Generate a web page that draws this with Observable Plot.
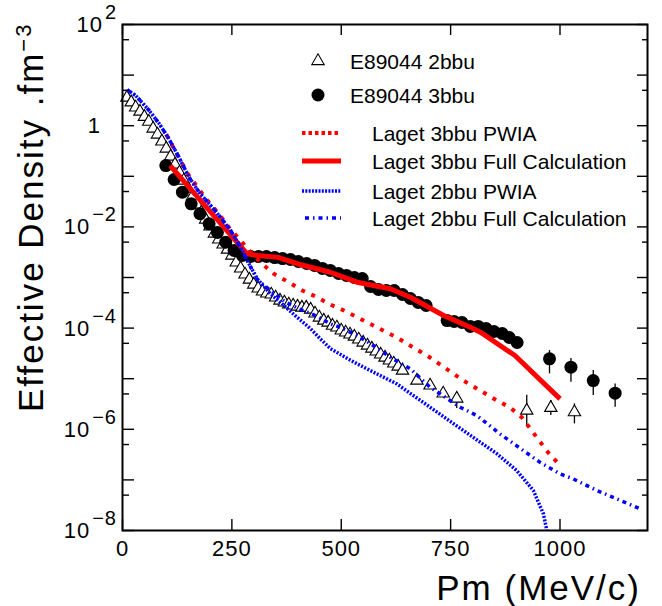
<!DOCTYPE html>
<html><head><meta charset="utf-8">
<script src="https://cdn.jsdelivr.net/npm/d3@7"></script>
<script src="https://cdn.jsdelivr.net/npm/@observablehq/plot@0.6"></script>
<style>
html,body{margin:0;padding:0;background:#fff;overflow:hidden}
#chart svg text{font-family:"Liberation Sans",Arial,Helvetica,sans-serif}
</style></head><body><div id="chart"></div>
<script>
// ---- data (Pm in MeV/c, effective density in fm^-3) ----
const pm2bbu = [10,20,30,40,50,60,70,80,90,100,110,120,130,140,150,160,170,180,190,200,210,220,230,240,250,260,270,280,290,300,310,320,330,340,350,360,370,380,390,400,410,420,430,440,450,460,470,480,490,500,510,520,530,540,550,560,570,580,590,600,610,620,630,640,673,703,733,764,924,979,1033];
const rho2bbu = [3.6,2.9,2.3,1.9,1.5,1.2,0.88,0.67,0.49,0.354,0.246,0.171,0.119,0.0826,0.0574,0.0399,0.0277,0.0193,0.014,0.0102,0.0074,0.00564,0.00449,0.00357,0.00272,0.00198,0.00151,0.00115,0.000912,0.000727,0.000607,0.000529,0.000483,0.000462,0.000403,0.000351,0.000321,0.000293,0.00028,0.000267,0.000255,0.000255,0.000233,0.000195,0.000162,0.000141,0.000129,0.000112,0.000103,8.97e-5,8.2e-5,7.5e-5,6.8e-5,5.96e-5,5.19e-5,4.53e-5,3.95e-5,3.45e-5,3.01e-5,2.62e-5,2.29e-5,2.0e-5,1.74e-5,1.45e-5,9.2e-6,7.35e-6,5.1e-6,4.06e-6,2.35e-6,2.66e-6,2.18e-6];
const err2Pm = [733,764,924,979,1033];
const err2Lo = [4.2e-6,2.58e-6,1.19e-6,1.87e-6,1.28e-6];
const err2Hi = [6.2e-6,5.33e-6,4.7e-6,3.7e-6,3.19e-6];

const pm3bbu = [99,118,137,157,177,198,217,236,255,274,293,311,329,348,366,384,402,421,439,457,475,494,512,530,548,567,585,603,621,640,658,676,694,742,758,776,795,813,831,849,868,884,902,976,1025,1076,1126];
const rho3bbu = [0.163,0.0865,0.0485,0.0286,0.0182,0.0115,0.00775,0.00499,0.00342,0.00272,0.0026,0.0026,0.0026,0.00248,0.00237,0.00227,0.00207,0.00189,0.00173,0.00151,0.00138,0.0012,0.0011,0.001,0.000955,0.000664,0.000579,0.000553,0.000553,0.000461,0.000385,0.000321,0.00028,0.000141,0.000135,0.000129,0.000108,0.000108,9.8e-5,8.57e-5,7.82e-5,6.52e-5,5.19e-5,2.47e-5,1.69e-5,9.2e-6,5.17e-6];
const err3Pm = [976,1025,1076,1126];
const err3Lo = [1.25e-5,8.5e-6,4.66e-6,2.73e-6];
const err3Hi = [3.6e-5,2.5e-5,1.45e-5,7.9e-6];

const pmRedPwia = [100,150,194,220,243,270,293,319,346,380,411,445,475,506,551,627,703,779,856,886,913,947,973,1000];
const rhoRedPwia = [0.67,0.1086,0.0333,0.01815,0.00986,0.00538,0.00316,0.00187,0.00118,0.000807,0.000553,0.000408,0.000292,0.000223,0.000141,6.52e-5,2.62e-5,9.2e-6,3.7e-6,2.7e-6,1.71e-6,6.9e-7,3.48e-7,1.93e-7];

const pmRedFull = [109,285,308,354,399,475,536,612,658,734,795,818,897,1000];
const rhoRedFull = [0.163,0.00294,0.00272,0.00252,0.00187,0.00127,0.000807,0.000598,0.000408,0.000177,0.000104,8.3e-5,2.87e-5,4.0e-6];

const pmBluePwia = [11,30,61,84,106,129,152,175,198,224,247,270,285,308,338,369,399,430,452,475,521,551,627,703,779,856,901,939,962,970];
const rhoBluePwia = [5.1,3.95,2.0,1.09,0.551,0.238,0.096,0.0485,0.0286,0.01556,0.00849,0.00397,0.00217,0.000942,0.000476,0.00028,0.000164,9.7e-5,6.15e-5,3.95e-5,2.32e-5,1.69e-5,7.9e-6,2.73e-6,9.46e-7,3.28e-7,1.53e-7,6.2e-8,2.14e-8,1.0e-8];

const pmBlueFull = [11,30,61,84,106,129,152,175,198,224,247,270,285,308,338,373,407,441,475,498,536,567,612,658,703,772,810,863,916,954,1000,1030,1084,1183];
const rhoBlueFull = [5.1,3.95,2.0,1.09,0.551,0.238,0.096,0.0485,0.0286,0.01556,0.00849,0.00397,0.00217,0.000912,0.000553,0.000325,0.000233,0.000177,0.000122,0.000103,7.14e-5,4.9e-5,2.66e-5,1.57e-5,6.8e-6,2.73e-6,1.87e-6,8.1e-7,3.81e-7,2.24e-7,1.32e-7,1.05e-7,6.2e-8,2.69e-8];

const xTicks = [0,250,500,750,1000];
const yMajor = [1e-8,1e-7,1e-6,1e-5,1e-4,1e-3,1e-2,1e-1,1,10,100];
const yMinor = [5e-8,5e-7,5e-6,5e-5,5e-4,5e-3,5e-2,0.5,5,50];
const yLabelValues = [100,1,1e-2,1e-4,1e-6,1e-8];
const yLabelBase = ["10","1","10","10","10","10"];
const yLabelExp = ["2","","\u22122","\u22124","\u22126","\u22128"];

const legendLabels = ["E89044 2bbu","E89044 3bbu","Laget 3bbu PWIA","Laget 3bbu Full Calculation","Laget 2bbu PWIA","Laget 2bbu Full Calculation"];

// ---- tables ----
const zip = (xs, ys) => xs.map((x, i) => ({x, y: ys[i]}));
const tri = zip(pm2bbu, rho2bbu);
const circ = zip(pm3bbu, rho3bbu);
const err2 = err2Pm.map((x, i) => ({x, lo: err2Lo[i], hi: err2Hi[i]}));
const err3 = err3Pm.map((x, i) => ({x, lo: err3Lo[i], hi: err3Hi[i]}));
const redPwia = zip(pmRedPwia, rhoRedPwia);
const redFull = zip(pmRedFull, rhoRedFull);
const bluePwia = zip(pmBluePwia, rhoBluePwia);
const blueFull = zip(pmBlueFull, rhoBlueFull);

const W = 662, H = 606, ML = 122, MR = 15, MT = 24, MB = 76;
const innerW = W - ML - MR, innerH = H - MT - MB;
const RED = "#ff0000", BLUE = "#0000ff";
const font = '"Liberation Sans", Arial, Helvetica, sans-serif';

const plot = Plot.plot({
  width: W, height: H,
  marginLeft: ML, marginRight: MR, marginTop: MT, marginBottom: MB,
  style: {background: "white", fontFamily: font, overflow: "visible", color: "black"},
  x: {type: "linear", domain: [0, 1200], axis: null},
  y: {type: "log", domain: [1e-8, 1e2], axis: null},
  marks: [
    Plot.ruleX(err2, {x: "x", y1: "lo", y2: "hi", stroke: "black", strokeWidth: 1.3}),
    Plot.dot(tri, {x: "x", y: "y", symbol: "triangle", r: 4.6, fill: "white", stroke: "black", strokeWidth: 1.1}),
    Plot.ruleX(err3, {x: "x", y1: "lo", y2: "hi", stroke: "black", strokeWidth: 1.3}),
    Plot.dot(circ, {x: "x", y: "y", r: 6.5, fill: "black"}),
    Plot.line(redPwia, {x: "x", y: "y", stroke: RED, strokeWidth: 4, strokeDasharray: "4,7", strokeLinecap: "butt"}),
    Plot.line(redFull, {x: "x", y: "y", stroke: RED, strokeWidth: 5, strokeLinecap: "butt"}),
    Plot.line(bluePwia, {x: "x", y: "y", stroke: BLUE, strokeWidth: 3.5, strokeDasharray: "2,1.5", strokeLinecap: "butt"}),
    Plot.line(blueFull, {x: "x", y: "y", stroke: BLUE, strokeWidth: 3.5, strokeDasharray: "4,4,1.5,4", strokeLinecap: "butt"}),
    Plot.frame({stroke: "black", strokeWidth: 2}),
    Plot.tickY(yMajor, {y: d => d, insetRight: innerW - 12, stroke: "black", strokeWidth: 1.4}),
    Plot.tickY(yMinor, {y: d => d, insetRight: innerW - 7, stroke: "black", strokeWidth: 1.4}),
    Plot.tickY(yMajor, {y: d => d, insetLeft: innerW - 10, stroke: "black", strokeWidth: 1.4}),
    Plot.tickY(yMinor, {y: d => d, insetLeft: innerW - 5, stroke: "black", strokeWidth: 1.4}),
    Plot.tickX(xTicks, {x: d => d, insetTop: innerH - 11, stroke: "black", strokeWidth: 1.4}),
    Plot.tickX(xTicks, {x: d => d, insetBottom: innerH - 11, stroke: "black", strokeWidth: 1.4}),
    Plot.text(xTicks, {x: d => d, text: d => String(d), frameAnchor: "bottom", dy: 18, lineAnchor: "middle", fontSize: 22, fill: "black"})
  ]
});

const svg = d3.select(plot);
svg.selectAll("text").style("letter-spacing", "1px");
const ys = plot.scale("y");

// y tick labels with superscripts
yLabelValues.forEach((v, i) => {
  const yy = ys.apply(v);
  const t = svg.append("text")
    .attr("x", yLabelExp[i] ? 117 : 101)
    .attr("y", yy + 8)
    .attr("text-anchor", "end")
    .attr("font-size", 22)
    .attr("fill", "black")
    .style("letter-spacing", "1px");
  t.append("tspan").text(yLabelBase[i]);
  if (yLabelExp[i]) t.append("tspan").attr("dy", -13).attr("dx", 2).attr("font-size", 20).text(yLabelExp[i]);
});

// axis titles
svg.append("text")
  .attr("x", 641).attr("y", 600)
  .attr("text-anchor", "end")
  .attr("font-size", 35).attr("fill", "black")
  .style("letter-spacing", "2px")
  .text("Pm (MeV/c)");

const yt = svg.append("text")
  .attr("transform", "translate(43,412) rotate(-90)")
  .attr("text-anchor", "start")
  .attr("font-size", 35).attr("fill", "black")
  .style("letter-spacing", "2px");
yt.append("tspan").text("Effective Density .fm");
yt.append("tspan").attr("dy", -12).attr("font-size", 22).text("\u22123");

// legend
const lg = svg.append("g").attr("text-anchor", "start");
const triSize = Math.PI * 4.6 * 4.6;
lg.append("path").attr("d", d3.symbol(d3.symbolTriangle, triSize)()).attr("transform", "translate(318,61)")
  .attr("fill", "white").attr("stroke", "black").attr("stroke-width", 1.1);
lg.append("circle").attr("cx", 318).attr("cy", 95).attr("r", 6.5).attr("fill", "black");
const legLines = [
  {y: 133, x1: 302, stroke: RED, w: 4, dash: "3.5,3"},
  {y: 161, x1: 302, stroke: RED, w: 5, dash: null},
  {y: 191, x1: 302, stroke: BLUE, w: 3.5, dash: "2,1.3"},
  {y: 218, x1: 305, stroke: BLUE, w: 3.5, dash: "4,4,1.5,4"}
];
legLines.forEach(l => {
  const ln = lg.append("line").attr("x1", l.x1).attr("x2", 341).attr("y1", l.y).attr("y2", l.y)
    .attr("stroke", l.stroke).attr("stroke-width", l.w);
  if (l.dash) ln.attr("stroke-dasharray", l.dash);
});
const legTextPos = [[350, 68.5], [350, 103], [372, 141], [372, 169], [372, 199], [372, 226]];
legendLabels.forEach((s, i) => {
  lg.append("text").attr("x", legTextPos[i][0]).attr("y", legTextPos[i][1])
    .attr("text-anchor", "start")
    .attr("font-size", 21).attr("fill", "black").text(s);
});

document.getElementById("chart").appendChild(plot);
</script></body></html>
